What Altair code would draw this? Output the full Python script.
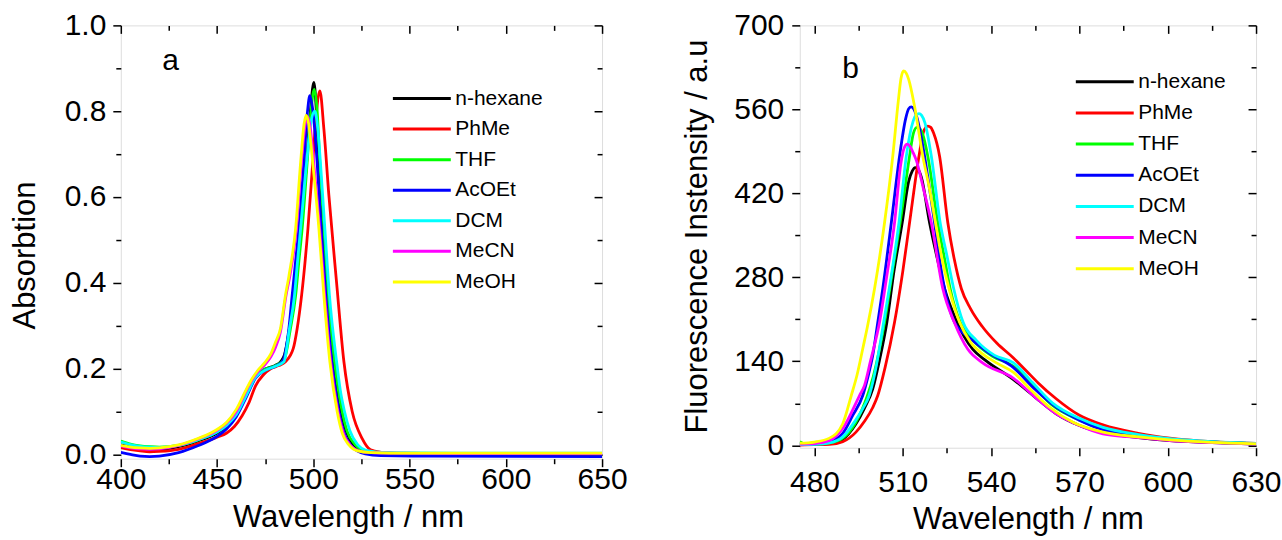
import altair as alt
import pandas as pd

SOLVENTS = ["n-hexane", "PhMe", "THF", "AcOEt", "DCM", "MeCN", "MeOH"]
COLORS = ["#000000", "#ff0000", "#00ff00", "#0000ff", "#00ffff", "#ff00ff", "#ffff00"]
FONT = "Liberation Sans"

# ---------- panel a : absorption (wavelength nm, absorbance) ----------
abs_hexane = [(400,0.022),(405,0.017),(410,0.014),(415,0.012),(420,0.012),(430,0.018),(440,0.031),(450,0.05),(455,0.066),(460,0.093),(465,0.138),(470,0.183),(475,0.199),(480,0.207),(483,0.216),(485,0.232),(487.5,0.29),(490.2,0.37),(492,0.45),(493.7,0.526),(496.5,0.68),(498.5,0.80),(500.3,0.867),(501.6,0.80),(502.9,0.68),(504.9,0.526),(507.2,0.37),(510.7,0.216),(512.5,0.15),(514.5,0.10),(517,0.055),(521,0.022),(525,0.01),(530,0.005),(540,0.003),(575,0.001),(650,0.0)]
abs_phme = [(400,0.016),(405,0.011),(410,0.008),(415,0.006),(420,0.007),(430,0.012),(440,0.025),(450,0.04),(455,0.05),(459,0.065),(463,0.09),(466.5,0.12),(470,0.16),(474,0.185),(478,0.2),(482,0.207),(485.5,0.216),(489.6,0.247),(491.6,0.293),(493.9,0.37),(497.2,0.526),(499.7,0.68),(501.5,0.79),(503.4,0.847),(505.5,0.758),(508.1,0.603),(512.1,0.40),(515.9,0.216),(520.2,0.10),(525.4,0.037),(529.7,0.011),(535,0.005),(545,0.002),(600,0.0),(650,-0.002)]
abs_thf = [(400,0.031),(405,0.024),(410,0.02),(415,0.018),(420,0.017),(430,0.021),(440,0.034),(450,0.053),(455,0.07),(460,0.096),(465,0.14),(470,0.184),(475,0.199),(480,0.206),(483,0.214),(485.2,0.225),(488,0.29),(490.8,0.37),(492.5,0.45),(494.2,0.526),(496.8,0.68),(498.8,0.80),(500.5,0.851),(502,0.80),(503.4,0.68),(505.5,0.526),(507.5,0.37),(511.0,0.216),(513,0.15),(515.0,0.10),(517.5,0.055),(521.9,0.022),(526,0.009),(530,0.005),(540,0.003),(575,0.002),(650,0.001)]
abs_acoet = [(400,0.005),(405,0.0),(410,-0.004),(415,-0.005),(420,-0.004),(430,0.004),(440,0.02),(450,0.042),(455,0.06),(460,0.088),(465,0.132),(470,0.178),(475,0.196),(480,0.205),(483.9,0.216),(487.3,0.293),(489.0,0.37),(490.8,0.45),(492.5,0.526),(495.1,0.68),(497,0.80),(498.2,0.836),(499.8,0.80),(502.0,0.68),(504.1,0.526),(506.5,0.37),(509.6,0.216),(511.5,0.15),(513.3,0.10),(516,0.05),(519.3,0.022),(523,0.008),(527,0.001),(535,-0.003),(560,-0.004),(650,-0.005)]
abs_dcm = [(400,0.029),(405,0.023),(410,0.019),(415,0.017),(420,0.016),(430,0.021),(440,0.034),(450,0.052),(455,0.068),(460,0.093),(465,0.136),(470,0.18),(475,0.196),(480,0.205),(484.7,0.216),(487.5,0.29),(490.2,0.37),(491.8,0.45),(493.4,0.526),(496.5,0.68),(499,0.78),(500.8,0.80),(502.3,0.76),(503.7,0.68),(506.0,0.526),(508.4,0.37),(512.1,0.216),(514,0.15),(516.2,0.10),(519,0.055),(523.1,0.022),(527,0.01),(532,0.006),(540,0.004),(575,0.003),(650,0.003)]
abs_mecn = [(400,0.02),(405,0.015),(410,0.013),(415,0.012),(420,0.013),(430,0.021),(440,0.036),(450,0.056),(455,0.073),(460,0.1),(465,0.147),(468,0.172),(471,0.192),(475,0.21),(478,0.228),(480.4,0.25),(482.9,0.285),(485.8,0.37),(487.8,0.415),(491.2,0.526),(493.8,0.68),(495.5,0.76),(497,0.787),(498.5,0.76),(500.2,0.68),(503.3,0.526),(505.9,0.37),(509,0.216),(512.8,0.10),(516,0.045),(519,0.022),(523,0.009),(530,0.004),(540,0.003),(575,0.002),(650,0.002)]
abs_meoh = [(400,0.021),(405,0.017),(410,0.015),(415,0.014),(420,0.015),(430,0.022),(440,0.037),(450,0.058),(455,0.075),(460,0.105),(465,0.15),(468,0.175),(471,0.195),(475,0.215),(478,0.235),(480.4,0.262),(482.9,0.293),(485.5,0.37),(487.3,0.415),(490.8,0.526),(493.4,0.68),(495.2,0.77),(496.3,0.79),(497.6,0.77),(499.7,0.68),(502.9,0.526),(505.5,0.37),(508.6,0.216),(512.4,0.10),(515,0.05),(518.5,0.022),(523,0.008),(530,0.004),(540,0.003),(575,0.003),(650,0.003)]

# ---------- panel b : fluorescence (wavelength nm, intensity a.u.) ----------
fl_hexane = [(475,1),(480,1.5),(485.1,3),(489.6,10),(494,35),(497,62),(499.8,94),(502,140),(504.6,205),(507,290),(509.8,371),(512,440),(513.2,457),(514.2,463),(515.2,460),(516.3,447),(519.1,371),(521.5,316),(524.2,261),(528,210),(533.8,160),(538,142),(547.5,110),(555,80),(562,53),(570,33),(578,21),(590,13),(600.7,8),(615,4.5),(630,2)]
fl_phme = [(475,0.5),(480,1),(485.1,1.5),(489.6,6),(494.1,22),(497,40),(499.8,63),(501.5,83),(504,130),(507.2,205),(510,290),(512.3,371),(515.5,482),(517,522),(518.5,532),(519.5,530),(520.5,520),(522.5,482),(525.3,371),(527.5,310),(529.9,261),(533,228),(537,198),(542,170),(547.5,146),(552,124),(556,104),(562,78),(570,50),(578,34),(590,20),(600.7,12),(615,6),(630,3)]
fl_thf = [(475,6),(476.5,2.5),(480,2),(485.1,4),(489.6,12),(494,38),(498,83),(500,115),(503.8,205),(506.5,290),(509.1,371),(512.3,482),(513.6,520),(514.8,530),(515.8,528),(516.8,518),(518.5,482),(521.9,371),(524,316),(526.1,261),(529.5,205),(534,174),(540.6,148),(547.5,132),(554,100),(561,66),(570,42),(578,27),(590,17),(600.7,10),(615,5.5),(630,2.5)]
fl_acoet = [(475,1),(480,2),(485.1,6),(489.6,20),(493,50),(496.4,83),(498.2,115),(499.8,150),(501.5,205),(503.2,261),(506.1,371),(508.9,482),(511,545),(512,561),(512.9,564),(513.8,560),(514.6,550),(517.4,482),(519.1,427),(520.8,371),(522.3,316),(524.2,261),(527.6,205),(533,178),(539,155),(547.5,130),(555,93),(562,64),(570,42),(578,26),(590,16),(600.7,10),(615,5.5),(630,2.5)]
fl_dcm = [(475,1),(480,1.5),(485.1,4),(489.6,14),(494,42),(496.5,62),(498.6,83),(500.5,120),(503.5,205),(506,280),(508.7,371),(511.2,482),(513.5,540),(514.6,551),(515.5,553),(516.4,550),(517.5,538),(519.7,482),(522.7,371),(525,316),(527.3,261),(530.5,205),(535,175),(541.2,150),(547.5,138),(554,105),(561,70),(570,45),(578,30),(590,18),(600.7,11),(615,6),(630,3)]
fl_mecn = [(475,2),(480,3),(485.1,8),(489.6,28),(495.3,83),(497,100),(499,140),(502.1,205),(504.5,280),(507.2,371),(509.3,468),(510.5,496),(511.5,502),(512.5,498),(513.5,488),(514.6,475),(517,428),(519.7,371),(523.6,261),(527.5,205),(532.1,160),(537,138),(547.5,112),(555,80),(562,53),(570,33),(578,19),(590,13),(600.7,8),(615,4.5),(630,2)]
fl_meoh = [(475,3.5),(480,5.5),(485.1,12),(489.6,36),(492.5,83),(494.5,118),(496.4,161),(498,198),(500.4,261),(503.8,371),(506.6,482),(508.5,575),(509.4,612),(510.3,624),(511.2,620),(512,610),(514,565),(516.8,482),(519.1,427),(521.1,371),(523.1,316),(525.7,261),(529.3,205),(533,172),(537.2,152),(542,137),(547.5,122),(553,95),(560,63),(568,38),(578,22),(590,14),(600.7,9),(615,5),(630,2.5)]

# axis ticks
A_X_MAJOR = [400, 450, 500, 550, 600, 650]
A_X_MINOR = [425, 475, 525, 575, 625]
A_Y_MAJOR = [0.0, 0.2, 0.4, 0.6, 0.8, 1.0]
A_Y_MINOR = [0.1, 0.3, 0.5, 0.7, 0.9]
B_X_MAJOR = [480, 510, 540, 570, 600, 630]
B_X_MINOR = [495, 525, 555, 585, 615]
B_Y_MAJOR = [0, 140, 280, 420, 560, 700]
B_Y_MINOR = [70, 210, 350, 490, 630]

# panel tags (data coordinates)
TAG_A = {"wl": [425.9], "val": [0.896], "tag": ["a"]}
TAG_B = {"wl": [492.3], "val": [612.0], "tag": ["b"]}


def to_frame(series):
    rows = []
    for name, pts in zip(SOLVENTS, series):
        for wl, v in pts:
            rows.append({"solvent": name, "wl": wl, "val": v})
    return pd.DataFrame(rows)


def tick_axis(orient, values, size, offset):
    return alt.Axis(orient=orient, values=values, tickSize=size, offset=offset,
                    labels=False, domain=False, grid=False, title=None,
                    tickColor="black", tickWidth=1.5)


def panel(df, tag, xdom, ydom, w, h, xmaj, xmin, ymaj, ymin, yfmt,
          xtitle, ytitle, xlabpad, ylabpad, xtitle_xy, ytitle_xy, leg_xy, rowpad):
    xs = alt.Scale(domain=xdom, nice=False, zero=False)
    ys = alt.Scale(domain=ydom, nice=False, zero=False)
    base = alt.Chart(df)
    lines = base.mark_line(strokeWidth=2.8, interpolate="monotone", clip=True).encode(
        x=alt.X("wl:Q", scale=xs, axis=alt.Axis(
            orient="bottom", values=xmaj, tickSize=8, tickWidth=1.5, tickColor="black",
            domain=False, grid=False, labelFontSize=30, labelColor="black",
            labelPadding=xlabpad, labelFlush=False, labelOverlap=False,
            title=xtitle, titleFontSize=31, titleFontWeight="normal", titleColor="black",
            titleX=xtitle_xy[0], titleY=xtitle_xy[1], titleBaseline="alphabetic")),
        y=alt.Y("val:Q", scale=ys, axis=alt.Axis(
            orient="left", values=ymaj, format=yfmt, tickSize=8, tickWidth=1.5, tickColor="black",
            domain=False, grid=False, labelFontSize=30, labelColor="black",
            labelPadding=ylabpad, labelFlush=False, labelOverlap=False,
            title=ytitle, titleFontSize=31, titleFontWeight="normal", titleColor="black",
            titleX=ytitle_xy[0], titleY=ytitle_xy[1], titleBaseline="alphabetic")),
        color=alt.Color("solvent:N", sort=SOLVENTS,
                        scale=alt.Scale(domain=SOLVENTS, range=COLORS),
                        legend=alt.Legend(orient="none", legendX=leg_xy[0], legendY=leg_xy[1],
                                          title=None, symbolType="stroke", symbolSize=3364,
                                          symbolStrokeWidth=3, clipHeight=20, rowPadding=rowpad,
                                          labelFontSize=21, labelOffset=3, padding=0,
                                          labelColor="black", labelFont=FONT)),
    )
    layers = [lines]
    for (xo, xv, xsz, xoff), (yo, yv, ysz, yoff) in [
        (("bottom", xmin, 5, 0), ("left", ymin, 5, 0)),
        (("top", xmaj, 8, -8), ("right", ymaj, 8, -8)),
        (("top", xmin, 5, -5), ("right", ymin, 5, -5)),
    ]:
        layers.append(base.mark_line(opacity=0).encode(
            x=alt.X("wl:Q", scale=xs, axis=tick_axis(xo, xv, xsz, xoff)),
            y=alt.Y("val:Q", scale=ys, axis=tick_axis(yo, yv, ysz, yoff)),
        ))
    label = alt.Chart(pd.DataFrame(tag)).mark_text(
        fontSize=30, font=FONT, color="black", align="center", baseline="alphabetic"
    ).encode(
        x=alt.X("wl:Q", scale=xs, axis=None),
        y=alt.Y("val:Q", scale=ys, axis=None),
        text="tag:N",
    )
    layers.append(label)
    return alt.layer(*layers).resolve_axis(x="independent", y="independent").properties(
        width=w, height=h)


panel_a = panel(to_frame([abs_hexane, abs_phme, abs_thf, abs_acoet, abs_dcm, abs_mecn, abs_meoh]),
                TAG_A, [400, 650], [-0.01, 1.0], 482, 434,
                A_X_MAJOR, A_X_MINOR, A_Y_MAJOR, A_Y_MINOR, ".1f",
                "Wavelength / nm", "Absorbtion", -2, 7, (227.5, 68), (-86, 230), (271, 63.3), 9.6)

panel_b = panel(to_frame([fl_hexane, fl_phme, fl_thf, fl_acoet, fl_dcm, fl_mecn, fl_meoh]),
                TAG_B, [475, 630], [-4, 700], 457, 423,
                B_X_MAJOR, B_X_MINOR, B_Y_MAJOR, B_Y_MINOR, "d",
                "Wavelength / nm", "Fluorescence Instensity / a.u", 12, 8, (228.5, 81), (-93, 211), (275, 46.5), 10.2)

chart = alt.hconcat(panel_a, panel_b, spacing=53).resolve_scale(color="independent").properties(
    padding={"left": 9, "top": 9, "right": 0, "bottom": 0}
).configure_view(stroke="black", strokeWidth=1.8).configure_axis(
    labelFont=FONT, titleFont=FONT
).configure_legend(labelFont=FONT).configure(background="white")

chart.save("out.html", embed_options={"renderer": "svg", "actions": False})
